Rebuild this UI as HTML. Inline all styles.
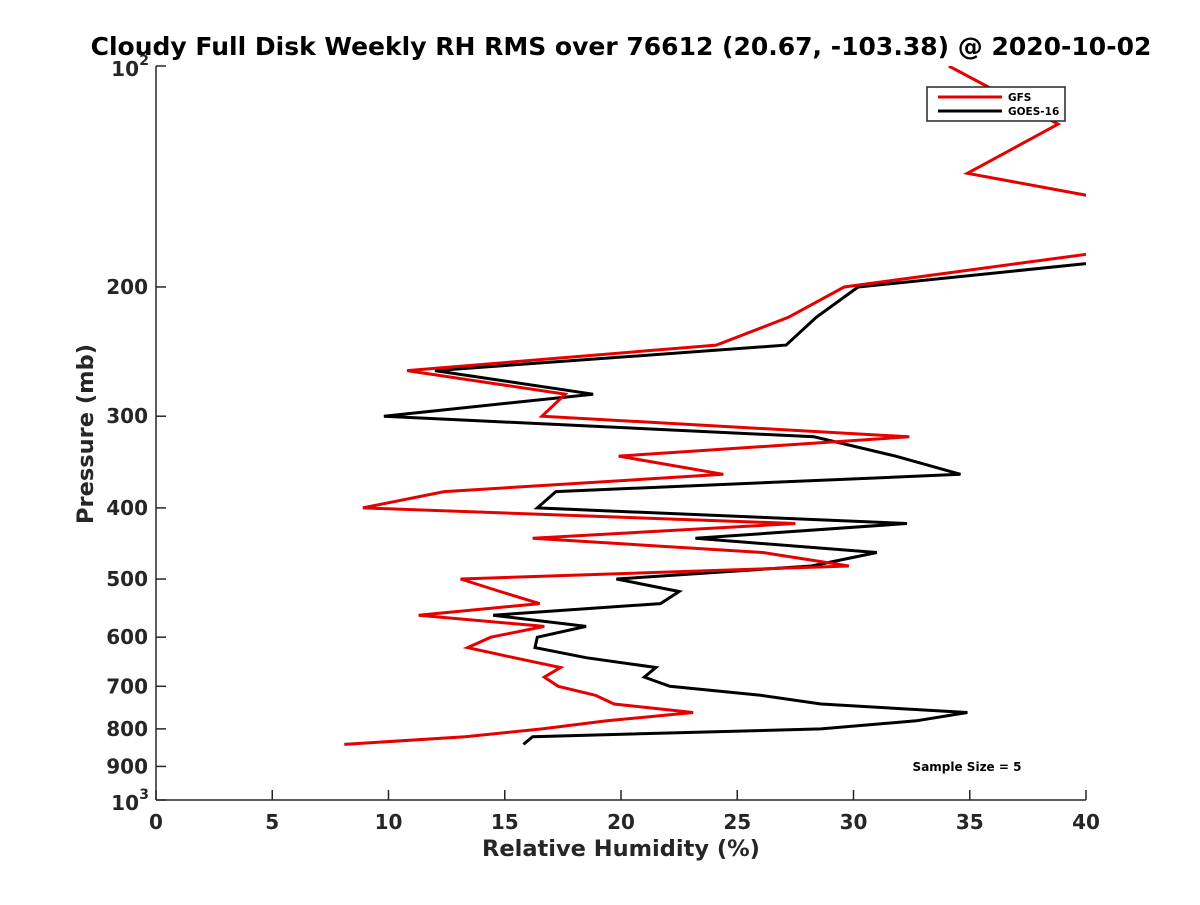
<!DOCTYPE html>
<html><head><meta charset="utf-8"><style>
html,body{margin:0;padding:0;background:#fff;}
svg text{font-family:"DejaVu Sans","Liberation Sans",sans-serif;font-weight:bold;}
</style></head><body>
<svg id="chart" width="1200" height="900" viewBox="0 0 1200 900" xmlns="http://www.w3.org/2000/svg">
<rect width="1200" height="900" fill="#fff"/>
<defs><clipPath id="clip"><rect x="156" y="66" width="930" height="734"/></clipPath></defs>
<text x="621" y="55" text-anchor="middle" font-size="25" fill="#000">Cloudy Full Disk Weekly RH RMS over 76612 (20.67, -103.38) @ 2020-10-02</text>
<g id="axes"></g>
<g id="series" clip-path="url(#clip)"></g>
<text x="621" y="856" text-anchor="middle" font-size="22.5" fill="#262626">Relative Humidity (%)</text>
<text transform="translate(93,434) rotate(-90)" text-anchor="middle" font-size="22.5" fill="#262626">Pressure (mb)</text>
<g>
<rect x="927" y="87" width="138" height="34" fill="#fff" stroke="#262626" stroke-width="1.5"/>
<line x1="938" y1="97" x2="1002" y2="97" stroke="#e60000" stroke-width="3"/>
<text x="1008" y="101" font-size="10.5" fill="#000">GFS</text>
<line x1="938" y1="111" x2="1002" y2="111" stroke="#000" stroke-width="3"/>
<text x="1008" y="115" font-size="10.5" fill="#000">GOES-16</text>
</g>
<text x="967" y="771" text-anchor="middle" font-size="12" fill="#000">Sample Size = 5</text>
</svg>
<script>
const gfsLevels = [100,120,140,160,180,200,220,240,260,280,300,320,340,360,380,400,420,440,460,480,500,520,540,560,580,600,620,640,660,680,700,720,740,760,780,800,820,840];
const gfsValues = [34.1,38.8,34.9,44.8,40.3,29.6,27.2,24.1,10.8,17.6,16.6,32.4,19.9,24.4,12.4,8.9,27.5,16.2,26.1,29.8,13.1,14.8,16.5,11.3,16.7,14.4,13.4,15.4,17.4,16.7,17.3,18.9,19.7,23.1,19.4,16.6,13.3,8.1];
const goesLevels = [180,200,220,240,260,280,300,320,340,360,380,400,420,440,460,480,500,520,540,560,580,600,620,640,660,680,700,720,740,760,780,800,820,840];
const goesValues = [44.3,30.2,28.4,27.1,12.0,18.8,9.8,28.3,31.8,34.6,17.2,16.4,32.3,23.2,31.0,28.2,19.8,22.5,21.7,14.5,18.5,16.4,16.3,18.5,21.5,21.0,22.1,26.0,28.6,34.9,32.7,28.6,16.2,15.8];
const xTicks = [0,5,10,15,20,25,30,35,40];
const yTicks = [100,200,300,400,500,600,700,800,900,1000];
const yTickLabels = ["10^2","200","300","400","500","600","700","800","900","10^3"];

const X0=156,X1=1086,Y0=66,Y1=800;
function xs(v){return X0+(v-0)/(40-0)*(X1-X0);}
function ys(p){return Y0+(Math.log10(p)-2)*(Y1-Y0);}
const NS="http://www.w3.org/2000/svg";
const axes=document.getElementById('axes');
function mk(tag,attrs,parent){const e=document.createElementNS(NS,tag);for(const k in attrs)e.setAttribute(k,attrs[k]);parent.appendChild(e);return e;}
const yax=mk('line',{x1:X0,y1:Y0,x2:X0,y2:Y1,stroke:'#262626','stroke-width':1.5},axes);


const xax=mk('line',{x1:X0,y1:Y1,x2:X1,y2:Y1,stroke:'#262626','stroke-width':1.5},axes);


xTicks.forEach(v=>{
  const t=mk('line',{x1:xs(v),y1:Y1,x2:xs(v),y2:Y1-10,stroke:'#262626','stroke-width':1.5},axes);
  
  
  const l=mk('text',{x:xs(v),y:Y1+29,'text-anchor':'middle','font-size':20,fill:'#262626'},axes);
  
  
  l.textContent=v;
});
yTicks.forEach((p,i)=>{
  const t=mk('line',{x1:X0,y1:ys(p),x2:X0+10,y2:ys(p),stroke:'#262626','stroke-width':1.5},axes);
  
  
  const lab=yTickLabels[i];
  if(lab.indexOf('^')>=0){
    const parts=lab.split('^');
    const l=mk('text',{x:X0-17,y:ys(p)+10,'text-anchor':'end','font-size':20,fill:'#262626'},axes);
    
    
    l.textContent=parts[0];
    const s=mk('text',{x:X0-7,y:ys(p)-1,'text-anchor':'end','font-size':14,fill:'#262626'},axes);
    
    
    s.textContent=parts[1];
  } else {
    const l=mk('text',{x:X0-8,y:ys(p)+7,'text-anchor':'end','font-size':20,fill:'#262626'},axes);
    
    
    l.textContent=lab;
  }
});
const series=document.getElementById('series');
function drawLine(levels,vals,color,name){
  const pts=levels.map((p,i)=>xs(vals[i]).toFixed(1)+','+ys(p).toFixed(1)).join(' ');
  const pl=mk('polyline',{points:pts,fill:'none',stroke:color,'stroke-width':3,'stroke-linejoin':'miter'},series);
  
  
}
drawLine(goesLevels,goesValues,'#000','goes16-line');
drawLine(gfsLevels,gfsValues,'#e60000','gfs-line');
</script>
</body></html>
